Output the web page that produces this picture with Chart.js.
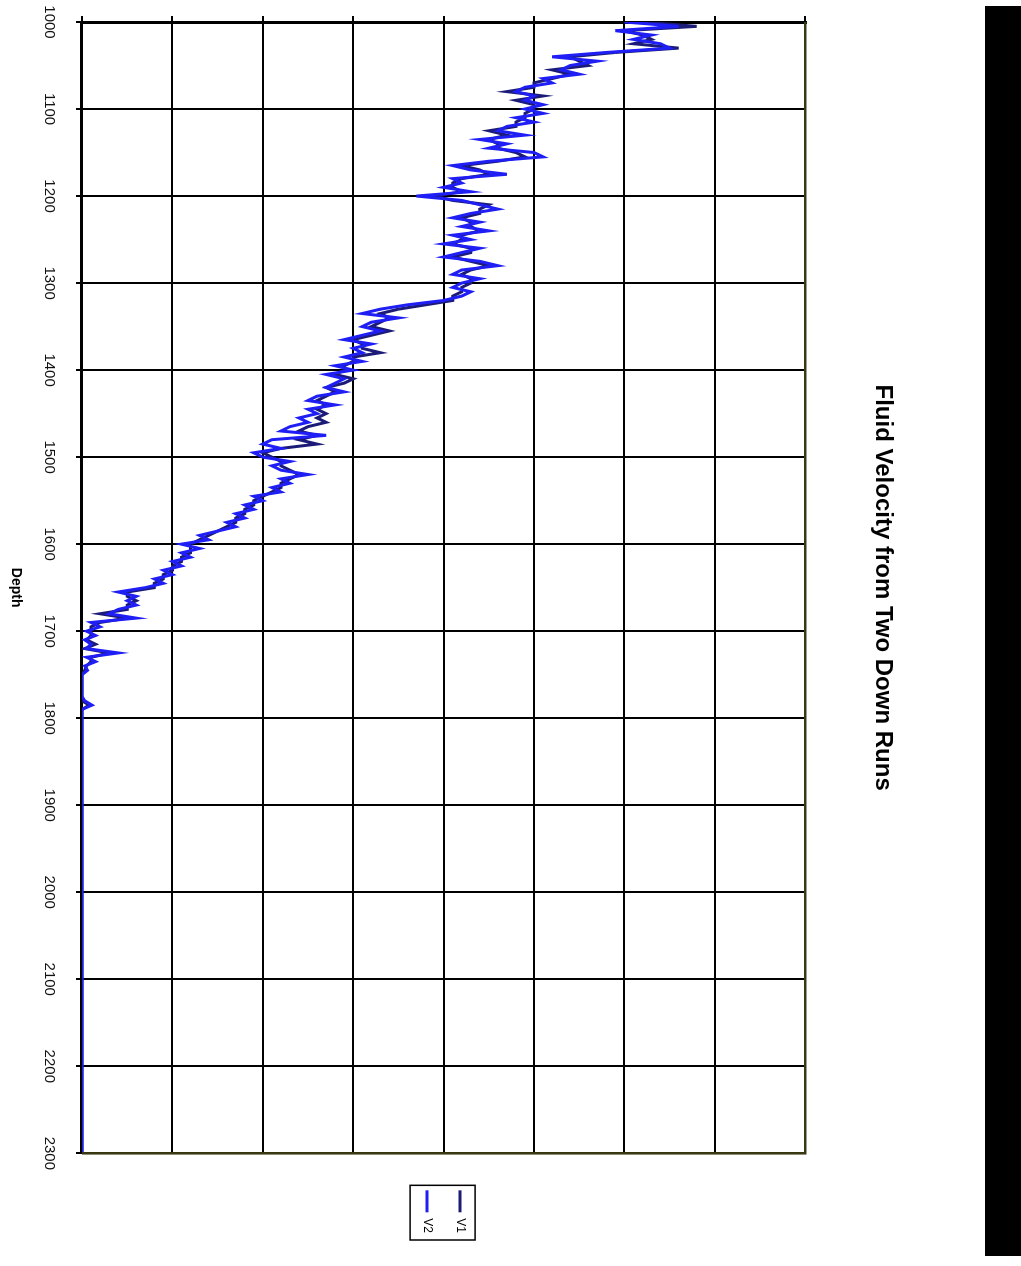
<!DOCTYPE html>
<html>
<head>
<meta charset="utf-8">
<script src="https://cdn.jsdelivr.net/npm/chart.js@4.4.1/dist/chart.umd.min.js"></script>
<style>
  html, body { margin: 0; padding: 0; background: #fff; overflow: hidden; }
  /* the chart is drawn landscape and turned a quarter clockwise, like the scan */
  #wrap { position: absolute; left: 0; top: 0; width: 1266px; height: 1021px;
          transform-origin: 0 0; transform: translateX(1021px) rotate(90deg); }
</style>
</head>
<body>
<div id="wrap"><canvas id="velChart" width="1266" height="1021"></canvas></div>
<script>
// depth samples every 5 ft down to 1795, then the flat tail
const depth = [];
for (let d = 1000; d < 1800; d += 5) depth.push(d);
depth.push(1800, 1900, 2000, 2100, 2200, 2300);

const v1 = [
  62, 68, 60, 62, 63, 61, 66, 59, 54, 55,
  56, 52, 54, 52, 50, 50, 47, 51, 48, 50,
  50, 49, 49, 48, 48, 45, 47, 45, 46, 46,
  48, 49, 46, 42, 44, 45, 42, 41, 41, 42,
  39, 41, 45, 44, 44, 42, 43, 43, 44, 42,
  42, 41, 43, 43, 41, 43, 45, 43, 42, 43,
  43, 42, 42, 41, 41, 38, 35, 33, 34, 33,
  32, 34, 32, 30, 31, 31, 33, 30, 30, 29,
  29, 28, 30, 29, 27, 28, 27, 26, 27, 26,
  27, 26, 27, 25, 24, 26, 24, 26, 22, 20,
  21, 22, 22, 23, 24, 23, 22, 22, 21, 20,
  19, 19, 18, 18, 17, 17, 16, 15, 14, 13,
  12, 12, 12, 11, 11, 10, 10, 9, 9, 8,
  8, 5, 5, 6, 5, 5, 2, 5, 2, 1,
  1, 1, 0.5, 1.5, 0.3, 3, 1, 1, 0.5, 0.3,
  0, 0, 0, 0, 0, 0, 0, 0.8, 0, 0,
  0, 0, 0, 0, 0, 0
];

const v2 = [
  60, 66, 59, 63, 61, 64, 65, 58, 52, 57,
  54, 53, 55, 51, 52, 49, 48, 50, 49, 51,
  49, 51, 48, 50, 47, 46, 49, 44, 47, 45,
  50, 51, 45, 41, 43, 47, 41, 42, 40, 43,
  37, 42, 44, 46, 43, 41, 44, 42, 45, 41,
  43, 40, 44, 42, 40, 44, 46, 42, 41, 44,
  42, 41, 43, 42, 40, 36, 33, 31, 35, 32,
  31, 33, 31, 29, 32, 30, 31, 29, 31, 28,
  30, 27, 29, 28, 27, 29, 26, 25, 28, 25,
  26, 24, 25, 23, 22, 27, 21, 20, 22, 19,
  20, 23, 21, 22, 25, 22, 23, 21, 22, 19,
  20, 18, 19, 17, 18, 16, 17, 15, 13, 14,
  11, 13, 11, 12, 10, 11, 9, 10, 8, 9,
  7, 4, 6, 5, 6, 4, 3, 6, 1, 2,
  0.5, 1.5, 0.3, 1, 0.5, 4, 0.5, 1.5, 0.3, 0.6,
  0, 0, 0, 0, 0, 0, 0.3, 1.1, 0, 0,
  0, 0, 0, 0, 0, 0
];

const seriesNames = ['V1', 'V2'];
const seriesColors = ['#1c1c78', '#1e1ef5'];

const pts = vals => vals.map((v, i) => ({ x: depth[i], y: v }));

// page scrap, plot border and legend frame
const frame = {
  id: 'frame',
  beforeDraw(chart) {
    const c = chart.ctx;
    c.save();
    c.fillStyle = '#fff';
    c.fillRect(0, 0, chart.width, chart.height);
    c.fillStyle = '#000';
    c.fillRect(6, 0, 1250, 36);
    c.restore();
  },
  afterDraw(chart) {
    const { ctx: c, chartArea: a, legend } = chart;
    c.save();
    c.strokeStyle = '#3a3a12';
    c.lineWidth = 2.5;
    c.beginPath();
    c.moveTo(a.left, a.top);
    c.lineTo(a.right, a.top);
    c.lineTo(a.right, a.bottom);
    c.stroke();
    const hb = legend.legendHitBoxes;
    if (hb && hb.length) {
      const l = hb[0].left - 5, t = hb[0].top - 9;
      const r = hb[0].left + hb[0].width + 7;
      const b = hb[hb.length - 1].top + hb[hb.length - 1].height + 11;
      c.strokeStyle = '#000';
      c.lineWidth = 1.5;
      c.strokeRect(l, t, r - l, b - t);
    }
    c.restore();
  }
};

Chart.defaults.font.family = '"Liberation Sans", Arial, sans-serif';
Chart.defaults.color = '#000';

new Chart(document.getElementById('velChart').getContext('2d'), {
  type: 'line',
  data: {
    datasets: [
      { label: seriesNames[0], data: pts(v1), borderColor: seriesColors[0], backgroundColor: seriesColors[0],
        borderWidth: 3, pointRadius: 0, fill: false, tension: 0, order: 1 },
      { label: seriesNames[1], data: pts(v2), borderColor: seriesColors[1], backgroundColor: seriesColors[1],
        borderWidth: 3, pointRadius: 0, fill: false, tension: 0, order: 0 }
    ]
  },
  options: {
    responsive: false,
    animation: false,
    events: [],
    layout: { padding: { top: 0, right: 23, bottom: 0, left: 0 } },
    plugins: {
      title: {
        display: true,
        fullSize: false,
        text: 'Fluid Velocity from Two Down Runs',
        color: '#000',
        font: { size: 24, weight: 'bold' },
        padding: { top: 124, bottom: 63 }
      },
      legend: {
        position: 'right',
        align: 'center',
        fullSize: false,
        labels: {
          usePointStyle: true, pointStyle: 'line', pointStyleWidth: 22,
          padding: 21, color: '#000', font: { size: 12 },
          sort: (a, b) => a.datasetIndex - b.datasetIndex
        }
      },
      tooltip: { enabled: false }
    },
    scales: {
      x: {
        type: 'linear', min: 1000, max: 2300,
        afterFit: s => { s.height = 82; s.paddingLeft = 0; s.paddingRight = 0; },
        ticks: { stepSize: 100, color: '#111', font: { size: 15 }, padding: 18, maxRotation: 0,
                 format: { useGrouping: false } },
        grid: { color: '#000', lineWidth: 2, tickLength: 6 },
        border: { color: '#000', width: 3 },
        title: { display: true, text: 'Depth', color: '#000',
                 font: { size: 14, weight: 'bold' }, padding: { top: 0, bottom: 7 } }
      },
      y: {
        type: 'linear', min: 0, max: 80,
        afterFit: s => { s.width = 22; s.paddingTop = 0; s.paddingBottom = 0; },
        ticks: { stepSize: 10, color: '#111', font: { size: 15 }, padding: 19 },
        grid: { color: '#000', lineWidth: 2, tickLength: 6 },
        border: { color: '#000', width: 3 }
      },
      gap: {
        type: 'linear', axis: 'y', position: 'right', display: true,
        afterFit: s => { s.width = 16; s.paddingTop = 0; s.paddingBottom = 0; },
        ticks: { display: false }, grid: { display: false }, border: { display: false }
      }
    }
  },
  plugins: [frame]
});
</script>
</body>
</html>
